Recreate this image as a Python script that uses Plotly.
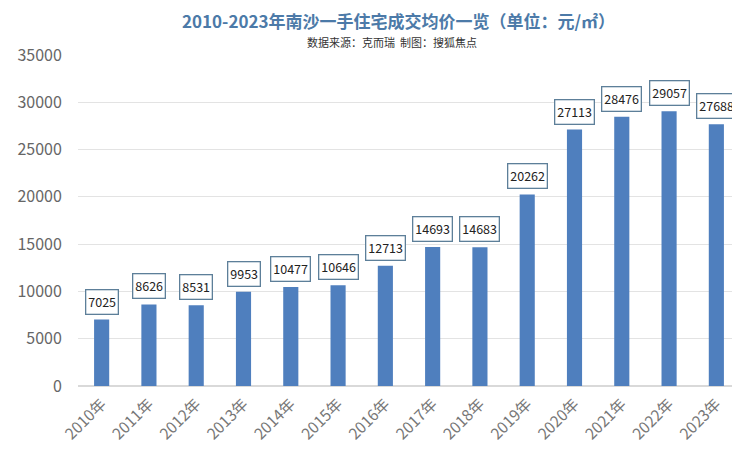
import plotly.graph_objects as go

years = ["2010年", "2011年", "2012年", "2013年", "2014年", "2015年", "2016年",
         "2017年", "2018年", "2019年", "2020年", "2021年", "2022年", "2023年"]
prices = [7025, 8626, 8531, 9953, 10477, 10646, 12713, 14693, 14683, 20262,
          27113, 28476, 29057, 27688]

FONT = "Noto Sans CJK SC"

fig = go.Figure()
fig.add_trace(go.Bar(x=years, y=prices, marker=dict(color="#4f7fbe", line=dict(width=0)),
                     hoverinfo="x+y"))

for x, v in zip(years, prices):
    fig.add_annotation(x=x, y=v, text=str(v), showarrow=False, yanchor="bottom",
                       yshift=5, bgcolor="white", bordercolor="#5d7f99", borderwidth=1.3,
                       borderpad=2, font=dict(family=FONT, size=12.5, color="#222222"))

fig.add_annotation(xref="paper", yref="paper", x=0.484, y=1, yanchor="middle", yshift=35,
                   xanchor="center", showarrow=False, borderpad=0,
                   text="<b>2010-2023年南沙一手住宅成交均价一览（单位：元/㎡）</b>",
                   font=dict(family=FONT, size=17, color="#4c7aa8"))
fig.add_annotation(xref="paper", yref="paper", x=0.474, y=1, yanchor="middle", yshift=13,
                   xanchor="center", showarrow=False,
                   text="数据来源：克而瑞  制图：搜狐焦点",
                   font=dict(family=FONT, size=11, color="#333333"))

fig.update_layout(
    width=732, height=441,
    margin=dict(l=70, r=0, t=47, b=63),
    paper_bgcolor="white", plot_bgcolor="white",
    bargap=0.68, showlegend=False,
    xaxis=dict(tickangle=-45, tickfont=dict(family=FONT, size=15.5, color="#777777"),
               showline=False, ticks="", automargin=False, ticklabelstandoff=5),
    yaxis=dict(range=[0, 35000], dtick=5000, tickformat="d", automargin=False,
               tickfont=dict(family=FONT, size=16, color="#666666"),
               gridcolor="#e3e3e3", gridwidth=1, zeroline=True, zerolinecolor="#d9d9d9",
               ticks="outside", ticklen=12, tickcolor="rgba(0,0,0,0)"),
)

fig.write_html("out.html")
